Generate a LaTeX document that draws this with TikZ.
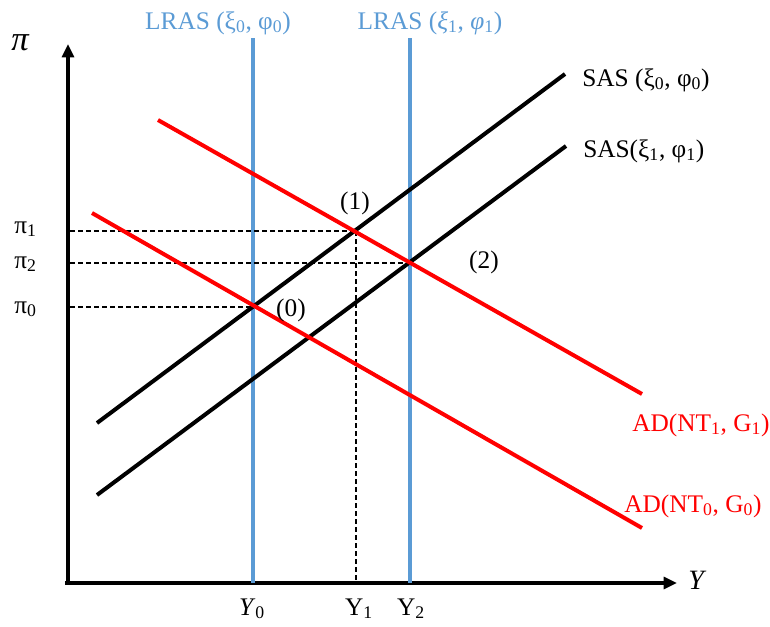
\documentclass[tikz,border=0pt]{standalone}
\usepackage{fontspec}
\setmainfont{Liberation Serif}
\usetikzlibrary{arrows.meta}
\definecolor{lrasblue}{RGB}{91,155,213}
\definecolor{adred}{RGB}{255,0,0}
\tikzset{
  axisline/.style={line width=2.3pt,-{Triangle[length=10pt,width=9pt]}},
  lras/.style={draw=lrasblue,line width=3pt},
  sas/.style={draw=black,line width=3pt},
  adline/.style={draw=adred,line width=3pt},
  guide/.style={draw=black,line width=1.2pt,dash pattern=on 3.5pt off 2.5pt},
  lbl/.style={font=\fontsize{19}{22}\selectfont,inner sep=0pt},
}
\begin{document}
\begin{tikzpicture}[x=0.75pt,y=-0.75pt]
\path[use as bounding box] (0,0) rectangle (770,626);
% axes
\coordinate (O) at (68,583);
\coordinate (ytop) at (68,44);
\coordinate (xend) at (677,583);
\draw[axisline] (O) -- (ytop);
\draw[axisline] ([xshift=-2]O) -- (xend);
% key points
\coordinate (P0) at (253,307);
\coordinate (P1) at (356,231);
\coordinate (P2) at (410,263);
% LRAS
\coordinate (L0t) at (253,38);
\coordinate (L0b) at (253,583);
\coordinate (L1t) at (410,38);
\coordinate (L1b) at (410,583);
\draw[lras] (L0t) -- (L0b);
\draw[lras] (L1t) -- (L1b);
% dashed guides
\coordinate (A1) at (70,231);
\coordinate (A2) at (70,263);
\coordinate (A0) at (70,307);
\coordinate (B1) at (356,582);
\draw[guide] (A1) -- (P1);
\draw[guide] (A2) -- (P2);
\draw[guide] (A0) -- (P0);
\draw[guide] (P1) -- (B1);
% SAS
\coordinate (S0a) at (97,423);
\coordinate (S0b) at (565,74);
\coordinate (S1a) at (97,495);
\coordinate (S1b) at (566,146);
\draw[sas] (S0a) -- (S0b);
\draw[sas] (S1a) -- (S1b);
% AD
\coordinate (D1a) at (158,120);
\coordinate (D1b) at (642,394);
\coordinate (D0a) at (92,213);
\coordinate (D0b) at (642,528);
\draw[adline] (D1a) -- (D1b);
\draw[adline] (D0a) -- (D0b);
% labels
\node[lbl,font=\fontsize{26}{28}\selectfont,anchor=base west] (pilab) at (11,50) {\textit{π}};
\node[lbl,font=\fontsize{21}{24}\selectfont,anchor=base west] (Ylab) at (688,589) {\textit{Y}};
\node[lbl,text=lrasblue,anchor=base] (lr0) at (218,29) {LRAS (ξ\textsubscript{0}, φ\textsubscript{0})};
\node[lbl,text=lrasblue,anchor=base] (lr1) at (430,29) {LRAS (\textit{ξ}\textsubscript{1}, \textit{φ}\textsubscript{1})};
\node[lbl,anchor=base west] (sas0) at (582,86) {SAS (ξ\textsubscript{0}, φ\textsubscript{0})};
\node[lbl,anchor=base west] (sas1) at (583,157) {SAS(ξ\textsubscript{1}, φ\textsubscript{1})};
\node[lbl,text=adred,anchor=base west] (ad1) at (632,431) {AD(NT\textsubscript{1}, G\textsubscript{1})};
\node[lbl,text=adred,anchor=base west] (ad0) at (624,512) {AD(NT\textsubscript{0}, G\textsubscript{0})};
\node[lbl,anchor=base west] (pi1) at (14,233) {π\textsubscript{1}};
\node[lbl,anchor=base west] (pi2) at (14,268) {π\textsubscript{2}};
\node[lbl,anchor=base west] (pi0) at (14,313) {π\textsubscript{0}};
\node[lbl,anchor=base] (e1) at (355,209) {(1)};
\node[lbl,anchor=base] (e2) at (484,268) {(2)};
\node[lbl,anchor=base] (e0) at (291,316) {(0)};
\node[lbl,anchor=base] (y0) at (252,615) {\textit{Y}\textsubscript{0}};
\node[lbl,anchor=base] (y1) at (359,615) {Y\textsubscript{1}};
\node[lbl,anchor=base] (y2) at (411,615) {Y\textsubscript{2}};
\end{tikzpicture}
\end{document}
